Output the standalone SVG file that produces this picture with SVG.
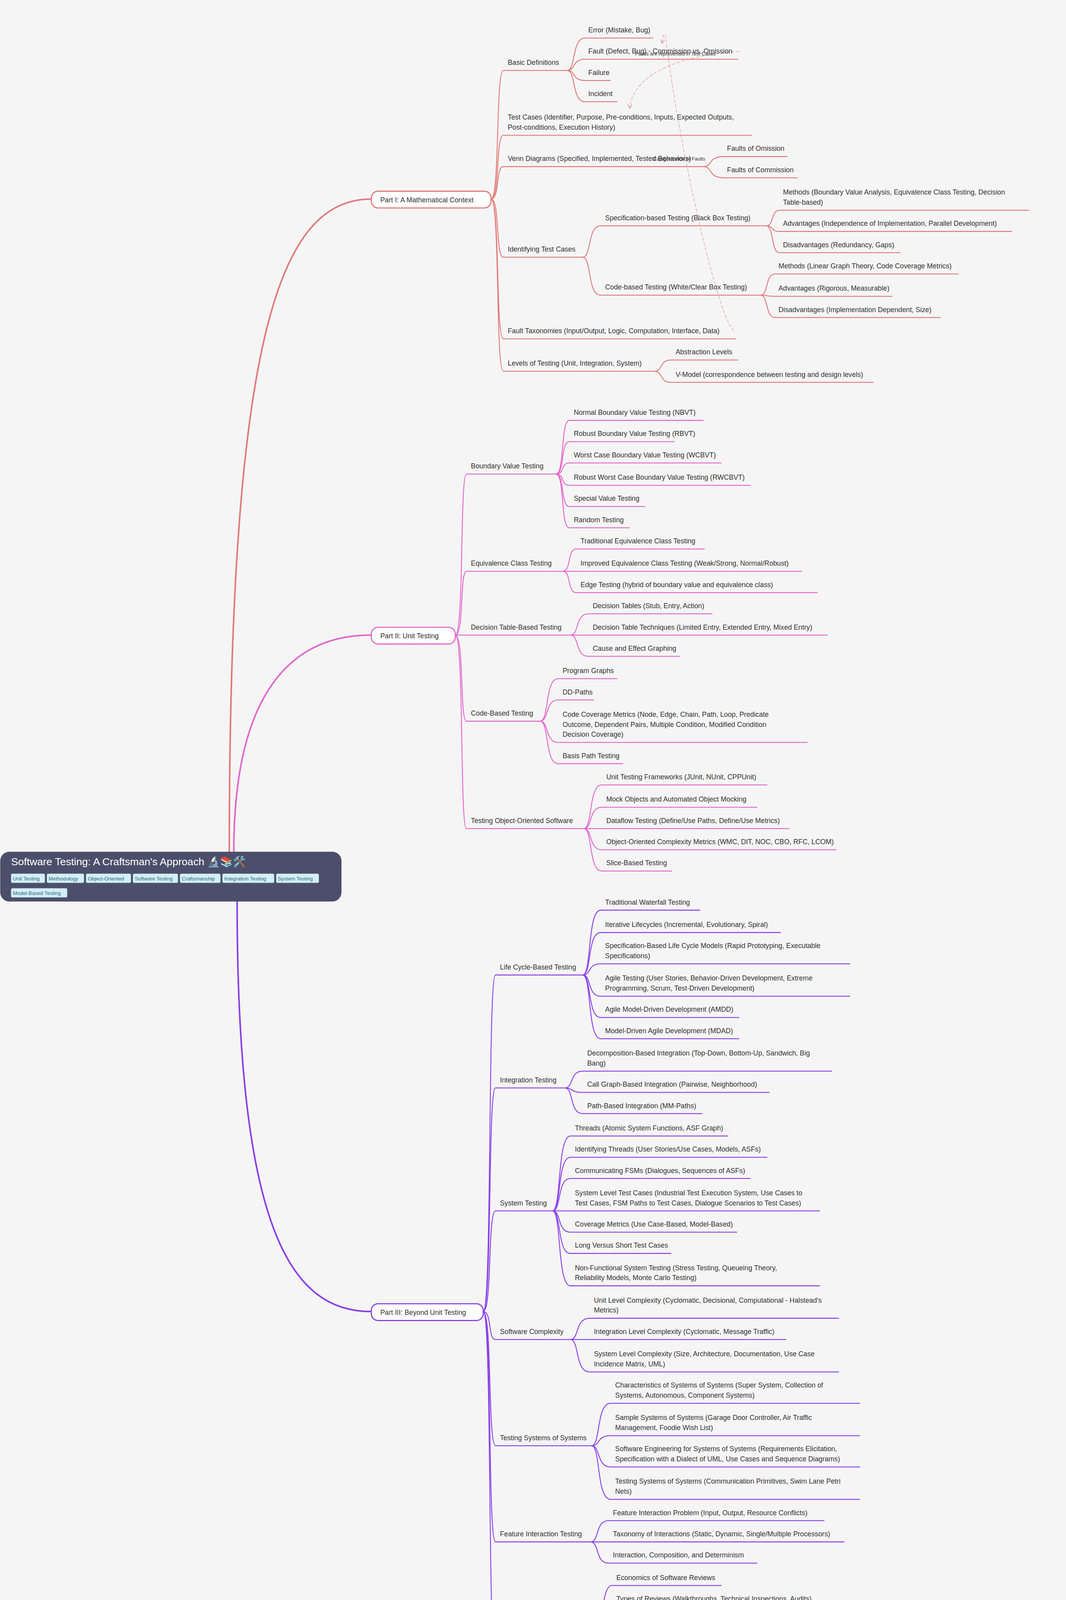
<svg xmlns="http://www.w3.org/2000/svg" width="2728" height="4488" viewBox="0 0 2728 4488">
<style>
.t{font-family:"Liberation Sans",Arial,sans-serif;font-size:6.2px;fill:#333}
.c1{fill:none;stroke:#e07a78;stroke-width:0.8}
.c2{fill:none;stroke:#e266cc;stroke-width:0.8}
.c3{fill:none;stroke:#8a3ee8;stroke-width:0.8}
.d{fill:none;stroke:#e07a78;stroke-width:0.35;stroke-dasharray:3 1.5}
.lb{font-family:"Liberation Sans",Arial,sans-serif;font-size:4.4px;fill:#333}
.tag{fill:#d4eff7;stroke:#b8dde8;stroke-width:0.3}
.tt{font-family:"Liberation Sans",Arial,sans-serif;font-size:4.6px;fill:#2d6a7a}
</style>
<defs>
<marker id="ar" viewBox="0 0 10 10" refX="10" refY="5" markerWidth="4" markerHeight="4" markerUnits="userSpaceOnUse" orient="auto"><path d="M0,0 L10,5 L0,10" fill="none" stroke="#e07a78" stroke-width="1.2"/></marker>
</defs>
<rect width="2728" height="4488" fill="#f5f5f5"/>
<g transform="scale(2.8624)">
<g id="connectors">
<path class="c1" style="stroke-width:1.4" d="M205,762 C205,300 250,178 332,178"/>
<path class="c2" style="stroke-width:1.4" d="M209,762 C209,620 260,568 332,568"/>
<path class="c3" style="stroke-width:1.4" d="M212,806 C212,1100 260,1173 332,1173"/>
<path class="c1" d="M439,178 C447,178 443,63 450,63 L507,63"/>
<path class="c1" d="M439,178 C447,178 443,121 450,121 L672,121"/>
<path class="c1" d="M439,178 C447,178 443,149 450,149 L629,149"/>
<path class="c1" d="M439,178 C447,178 443,230 450,230 L521,230"/>
<path class="c1" d="M439,178 C447,178 443,303 450,303 L658,303"/>
<path class="c1" d="M439,178 C447,178 443,332 450,332 L585,332"/>
<path class="c1" d="M507,63 C515,63 511,34 523,34 L584,34"/>
<path class="c1" d="M507,63 C515,63 511,53 523,53 L660,53"/>
<path class="c1" d="M507,63 C515,63 511,72 523,72 L546,72"/>
<path class="c1" d="M507,63 C515,63 511,91 523,91 L552,91"/>
<path class="c1" d="M629,149 C637,149 633,140 647,140 L704,140"/>
<path class="c1" d="M629,149 C637,149 633,159 647,159 L713,159"/>
<path class="c1" d="M521,230 C529,230 525,202 537,202 L685,202"/>
<path class="c1" d="M521,230 C529,230 525,264 537,264 L680,264"/>
<path class="c1" d="M685,202 C692,202 689,188 697,188 L920,188"/>
<path class="c1" d="M685,202 C692,202 689,207 697,207 L905,207"/>
<path class="c1" d="M685,202 C692,202 689,226 697,226 L805,226"/>
<path class="c1" d="M680,264 C687,264 684,245 693,245 L857,245"/>
<path class="c1" d="M680,264 C687,264 684,265 693,265 L798,265"/>
<path class="c1" d="M680,264 C687,264 684,284 693,284 L841,284"/>
<path class="c1" d="M585,332 C593,332 589,322 600,322 L660,322"/>
<path class="c1" d="M585,332 C593,332 589,342 600,342 L781,342"/>
<path class="d" d="M661,46 C600,50 565,70 563,97" marker-end="url(#ar)"/>
<path class="d" d="M656,296 C640,280 605,120 595,32 Q593,27 592,39" marker-end="url(#ar)"/>
<path class="c2" d="M407,568 C415,568 411,424 417,424 L497,424"/>
<path class="c2" d="M407,568 C415,568 411,511 417,511 L503,511"/>
<path class="c2" d="M407,568 L417,568 L510,568"/>
<path class="c2" d="M407,568 C415,568 411,645 417,645 L483,645"/>
<path class="c2" d="M407,568 C415,568 411,741 417,741 L522,741"/>
<path class="c2" d="M497,424 C505,424 501,376 509,376 L629,376"/>
<path class="c2" d="M497,424 C505,424 501,395 509,395 L603,395"/>
<path class="c2" d="M497,424 C505,424 501,414 509,414 L645,414"/>
<path class="c2" d="M497,424 C505,424 501,434 509,434 L671,434"/>
<path class="c2" d="M497,424 C505,424 501,453 509,453 L577,453"/>
<path class="c2" d="M497,424 C505,424 501,472 509,472 L563,472"/>
<path class="c2" d="M503,511 C511,511 507,491 515,491 L630,491"/>
<path class="c2" d="M503,511 C511,511 507,511 515,511 L717,511"/>
<path class="c2" d="M503,511 C511,511 507,530 515,530 L731,530"/>
<path class="c2" d="M510,568 C518,568 514,549 526,549 L637,549"/>
<path class="c2" d="M510,568 C518,568 514,568 526,568 L740,568"/>
<path class="c2" d="M510,568 C518,568 514,587 526,587 L608,587"/>
<path class="c2" d="M483,645 C491,645 487,607 499,607 L552,607"/>
<path class="c2" d="M483,645 C491,645 487,626 499,626 L531,626"/>
<path class="c2" d="M483,645 C491,645 487,664 499,664 L722,664"/>
<path class="c2" d="M483,645 C491,645 487,683 499,683 L557,683"/>
<path class="c2" d="M522,741 C530,741 526,702 538,702 L686,702"/>
<path class="c2" d="M522,741 C530,741 526,722 538,722 L677,722"/>
<path class="c2" d="M522,741 C530,741 526,741 538,741 L706,741"/>
<path class="c2" d="M522,741 C530,741 526,760 538,760 L748,760"/>
<path class="c2" d="M522,741 C530,741 526,779 538,779 L601,779"/>
<path class="c3" d="M432,1173 C440,1173 436,872 443,872 L521,872"/>
<path class="c3" d="M432,1173 C440,1173 436,973 443,973 L505,973"/>
<path class="c3" d="M432,1173 C440,1173 436,1083 443,1083 L494,1083"/>
<path class="c3" d="M432,1173 C440,1173 436,1198 443,1198 L510,1198"/>
<path class="c3" d="M432,1173 C440,1173 436,1293 443,1293 L529,1293"/>
<path class="c3" d="M432,1173 C440,1173 436,1379 443,1379 L528,1379"/>
<path class="c3" d="M432,1173 C440,1173 436,1484 443,1484 L531,1484"/>
<path class="c3" d="M521,872 C529,872 525,814 537,814 L626,814"/>
<path class="c3" d="M521,872 C529,872 525,834 537,834 L698,834"/>
<path class="c3" d="M521,872 C529,872 525,862 537,862 L760,862"/>
<path class="c3" d="M521,872 C529,872 525,891 537,891 L760,891"/>
<path class="c3" d="M521,872 C529,872 525,910 537,910 L661,910"/>
<path class="c3" d="M521,872 C529,872 525,929 537,929 L661,929"/>
<path class="c3" d="M505,973 C513,973 509,958 521,958 L744,958"/>
<path class="c3" d="M505,973 C513,973 509,977 521,977 L688,977"/>
<path class="c3" d="M505,973 C513,973 509,996 521,996 L628,996"/>
<path class="c3" d="M494,1083 C502,1083 498,1016 510,1016 L651,1016"/>
<path class="c3" d="M494,1083 C502,1083 498,1035 510,1035 L686,1035"/>
<path class="c3" d="M494,1083 C502,1083 498,1054 510,1054 L671,1054"/>
<path class="c3" d="M494,1083 L510,1083 L733,1083"/>
<path class="c3" d="M494,1083 C502,1083 498,1102 510,1102 L659,1102"/>
<path class="c3" d="M494,1083 C502,1083 498,1121 510,1121 L600,1121"/>
<path class="c3" d="M494,1083 C502,1083 498,1150 510,1150 L733,1150"/>
<path class="c3" d="M510,1198 C518,1198 514,1179 527,1179 L750,1179"/>
<path class="c3" d="M510,1198 L527,1198 L703,1198"/>
<path class="c3" d="M510,1198 C518,1198 514,1227 527,1227 L750,1227"/>
<path class="c3" d="M529,1293 C537,1293 533,1255 546,1255 L769,1255"/>
<path class="c3" d="M529,1293 C537,1293 533,1284 546,1284 L769,1284"/>
<path class="c3" d="M529,1293 C537,1293 533,1312 546,1312 L769,1312"/>
<path class="c3" d="M529,1293 C537,1293 533,1341 546,1341 L769,1341"/>
<path class="c3" d="M528,1379 C536,1379 532,1360 544,1360 L737,1360"/>
<path class="c3" d="M528,1379 L544,1379 L755,1379"/>
<path class="c3" d="M528,1379 C536,1379 532,1398 544,1398 L677,1398"/>
<path class="c3" d="M531,1484 C539,1484 535,1418 547,1418 L645,1418"/>
<path class="c3" d="M531,1484 C539,1484 535,1437 547,1437 L737,1437"/>
<path class="c3" d="M531,1484 C539,1484 535,1456 547,1456 L742,1456"/>
<path class="c3" d="M531,1484 C539,1484 535,1495 547,1495 L770,1495"/>
<path class="c3" d="M531,1484 C539,1484 535,1533 547,1533 L770,1533"/>
<path class="c3" d="M531,1484 C539,1484 535,1551 547,1551 L737,1551"/>
<text class="lb" x="568" y="49.5">Faults are represented in Test Cases</text>
<text class="lb" x="584" y="143.5">Categorization of Faults</text>
</g>
<g id="root">
<rect x="0.5" y="762" width="304.5" height="44" rx="8" fill="#4c4f6b" stroke="#3e4159" stroke-width="0.5"/>
<text x="10" y="774" style="font-family:'Liberation Sans',Arial,sans-serif;font-size:9.3px;fill:#fff">Software Testing: A Craftsman's Approach 🔬📚🛠️</text>
<rect class="tag" x="10" y="781.5" width="30" height="8" rx="1"/><text class="tt" x="11.5" y="787.5">Unit Testing</text>
<rect class="tag" x="42" y="781.5" width="33" height="8" rx="1"/><text class="tt" x="43.5" y="787.5">Methodology</text>
<rect class="tag" x="77" y="781.5" width="40" height="8" rx="1"/><text class="tt" x="78.5" y="787.5">Object-Oriented</text>
<rect class="tag" x="119" y="781.5" width="40" height="8" rx="1"/><text class="tt" x="120.5" y="787.5">Software Testing</text>
<rect class="tag" x="161" y="781.5" width="36" height="8" rx="1"/><text class="tt" x="162.5" y="787.5">Craftsmanship</text>
<rect class="tag" x="199" y="781.5" width="46" height="8" rx="1"/><text class="tt" x="200.5" y="787.5">Integration Testing</text>
<rect class="tag" x="247" y="781.5" width="38" height="8" rx="1"/><text class="tt" x="248.5" y="787.5">System Testing</text>
<rect class="tag" x="10" y="794.5" width="50" height="8" rx="1"/><text class="tt" x="11.5" y="800.5">Model-Based Testing</text>
</g>
<g id="part1">
<rect x="332" y="171" width="107" height="15" rx="6" fill="#fff" stroke="#e07a78" stroke-width="1"/>
<text class="t" x="340" y="180.8">Part I: A Mathematical Context</text>
</g>
<g id="part2">
<rect x="332" y="561" width="75" height="15" rx="6" fill="#fff" stroke="#e266cc" stroke-width="1"/>
<text class="t" x="340" y="570.8">Part II: Unit Testing</text>
</g>
<g id="part3">
<rect x="332" y="1166" width="100" height="15" rx="6" fill="#fff" stroke="#8a3ee8" stroke-width="1"/>
<text class="t" x="340" y="1175.8">Part III: Beyond Unit Testing</text>
</g>
<g id="nodes1" class="t">
<text x="454" y="58">Basic Definitions</text>
<text x="454" y="107">Test Cases (Identifier, Purpose, Pre-conditions, Inputs, Expected Outputs,</text>
<text x="454" y="116">Post-conditions, Execution History)</text>
<text x="454" y="144">Venn Diagrams (Specified, Implemented, Tested Behaviors)</text>
<text x="454" y="225">Identifying Test Cases</text>
<text x="454" y="298">Fault Taxonomies (Input/Output, Logic, Computation, Interface, Data)</text>
<text x="454" y="327">Levels of Testing (Unit, Integration, System)</text>
<text x="526" y="29">Error (Mistake, Bug)</text>
<text x="526" y="48">Fault (Defect, Bug) - Commission vs. Omission</text>
<text x="526" y="67">Failure</text>
<text x="526" y="86">Incident</text>
<text x="650" y="135">Faults of Omission</text>
<text x="650" y="154">Faults of Commission</text>
<text x="541" y="197">Specification-based Testing (Black Box Testing)</text>
<text x="541" y="259">Code-based Testing (White/Clear Box Testing)</text>
<text x="700" y="174">Methods (Boundary Value Analysis, Equivalence Class Testing, Decision</text>
<text x="700" y="183">Table-based)</text>
<text x="700" y="202">Advantages (Independence of Implementation, Parallel Development)</text>
<text x="700" y="221">Disadvantages (Redundancy, Gaps)</text>
<text x="696" y="240">Methods (Linear Graph Theory, Code Coverage Metrics)</text>
<text x="696" y="260">Advantages (Rigorous, Measurable)</text>
<text x="696" y="279">Disadvantages (Implementation Dependent, Size)</text>
<text x="604" y="317">Abstraction Levels</text>
<text x="604" y="337">V-Model (correspondence between testing and design levels)</text>
</g>
<g id="nodes2" class="t">
<text x="421" y="419">Boundary Value Testing</text>
<text x="421" y="506">Equivalence Class Testing</text>
<text x="421" y="563">Decision Table-Based Testing</text>
<text x="421" y="640">Code-Based Testing</text>
<text x="421" y="736">Testing Object-Oriented Software</text>
<text x="513" y="371">Normal Boundary Value Testing (NBVT)</text>
<text x="513" y="390">Robust Boundary Value Testing (RBVT)</text>
<text x="513" y="409">Worst Case Boundary Value Testing (WCBVT)</text>
<text x="513" y="429">Robust Worst Case Boundary Value Testing (RWCBVT)</text>
<text x="513" y="448">Special Value Testing</text>
<text x="513" y="467">Random Testing</text>
<text x="519" y="486">Traditional Equivalence Class Testing</text>
<text x="519" y="506">Improved Equivalence Class Testing (Weak/Strong, Normal/Robust)</text>
<text x="519" y="525">Edge Testing (hybrid of boundary value and equivalence class)</text>
<text x="530" y="544">Decision Tables (Stub, Entry, Action)</text>
<text x="530" y="563">Decision Table Techniques (Limited Entry, Extended Entry, Mixed Entry)</text>
<text x="530" y="582">Cause and Effect Graphing</text>
<text x="503" y="602">Program Graphs</text>
<text x="503" y="621">DD-Paths</text>
<text x="503" y="641">Code Coverage Metrics (Node, Edge, Chain, Path, Loop, Predicate</text>
<text x="503" y="650">Outcome, Dependent Pairs, Multiple Condition, Modified Condition</text>
<text x="503" y="659">Decision Coverage)</text>
<text x="503" y="678">Basis Path Testing</text>
<text x="542" y="697">Unit Testing Frameworks (JUnit, NUnit, CPPUnit)</text>
<text x="542" y="717">Mock Objects and Automated Object Mocking</text>
<text x="542" y="736">Dataflow Testing (Define/Use Paths, Define/Use Metrics)</text>
<text x="542" y="755">Object-Oriented Complexity Metrics (WMC, DIT, NOC, CBO, RFC, LCOM)</text>
<text x="542" y="774">Slice-Based Testing</text>
</g>
<g id="nodes3" class="t">
<text x="447" y="867">Life Cycle-Based Testing</text>
<text x="447" y="968">Integration Testing</text>
<text x="447" y="1078">System Testing</text>
<text x="447" y="1193">Software Complexity</text>
<text x="447" y="1288">Testing Systems of Systems</text>
<text x="447" y="1374">Feature Interaction Testing</text>
<text x="447" y="1479">Software Technical Reviews</text>
<text x="541" y="809">Traditional Waterfall Testing</text>
<text x="541" y="829">Iterative Lifecycles (Incremental, Evolutionary, Spiral)</text>
<text x="541" y="848">Specification-Based Life Cycle Models (Rapid Prototyping, Executable</text>
<text x="541" y="857">Specifications)</text>
<text x="541" y="877">Agile Testing (User Stories, Behavior-Driven Development, Extreme</text>
<text x="541" y="886">Programming, Scrum, Test-Driven Development)</text>
<text x="541" y="905">Agile Model-Driven Development (AMDD)</text>
<text x="541" y="924">Model-Driven Agile Development (MDAD)</text>
<text x="525" y="944">Decomposition-Based Integration (Top-Down, Bottom-Up, Sandwich, Big</text>
<text x="525" y="953">Bang)</text>
<text x="525" y="972">Call Graph-Based Integration (Pairwise, Neighborhood)</text>
<text x="525" y="991">Path-Based Integration (MM-Paths)</text>
<text x="514" y="1011">Threads (Atomic System Functions, ASF Graph)</text>
<text x="514" y="1030">Identifying Threads (User Stories/Use Cases, Models, ASFs)</text>
<text x="514" y="1049">Communicating FSMs (Dialogues, Sequences of ASFs)</text>
<text x="514" y="1069">System Level Test Cases (Industrial Test Execution System, Use Cases to</text>
<text x="514" y="1078">Test Cases, FSM Paths to Test Cases, Dialogue Scenarios to Test Cases)</text>
<text x="514" y="1097">Coverage Metrics (Use Case-Based, Model-Based)</text>
<text x="514" y="1116">Long Versus Short Test Cases</text>
<text x="514" y="1136">Non-Functional System Testing (Stress Testing, Queueing Theory,</text>
<text x="514" y="1145">Reliability Models, Monte Carlo Testing)</text>
<text x="531" y="1165">Unit Level Complexity (Cyclomatic, Decisional, Computational - Halstead's</text>
<text x="531" y="1174">Metrics)</text>
<text x="531" y="1193">Integration Level Complexity (Cyclomatic, Message Traffic)</text>
<text x="531" y="1213">System Level Complexity (Size, Architecture, Documentation, Use Case</text>
<text x="531" y="1222">Incidence Matrix, UML)</text>
<text x="550" y="1241">Characteristics of Systems of Systems (Super System, Collection of</text>
<text x="550" y="1250">Systems, Autonomous, Component Systems)</text>
<text x="550" y="1270">Sample Systems of Systems (Garage Door Controller, Air Traffic</text>
<text x="550" y="1279">Management, Foodie Wish List)</text>
<text x="550" y="1298">Software Engineering for Systems of Systems (Requirements Elicitation,</text>
<text x="550" y="1307">Specification with a Dialect of UML, Use Cases and Sequence Diagrams)</text>
<text x="550" y="1327">Testing Systems of Systems (Communication Primitives, Swim Lane Petri</text>
<text x="550" y="1336">Nets)</text>
<text x="548" y="1355">Feature Interaction Problem (Input, Output, Resource Conflicts)</text>
<text x="548" y="1374">Taxonomy of Interactions (Static, Dynamic, Single/Multiple Processors)</text>
<text x="548" y="1393">Interaction, Composition, and Determinism</text>
<text x="551" y="1413">Economics of Software Reviews</text>
<text x="551" y="1432">Types of Reviews (Walkthroughs, Technical Inspections, Audits)</text>
<text x="551" y="1451">Roles in a Review (Producer, Review Leader, Recorder, Reviewers)</text>
<text x="551" y="1472">Contents of an Inspection Packet (Work Product Requirements, Frozen</text>
<text x="551" y="1481">Work Product, Standards and Checklists, Review Issues Spreadsheet,</text>
<text x="551" y="1490">Review Reporting Forms, Fault Severity Levels, Review Report Outline)</text>
<text x="551" y="1510">An Industrial-Strength Inspection Process (Commitment Planning,</text>
<text x="551" y="1519">Reviewer Introduction, Preparation, Review Meeting, Report Preparation,</text>
<text x="551" y="1528">Disposition)</text>
<text x="551" y="1546">Effective Review Culture (Etiquette, Management Participation)</text>
</g>
</g>
</svg>
